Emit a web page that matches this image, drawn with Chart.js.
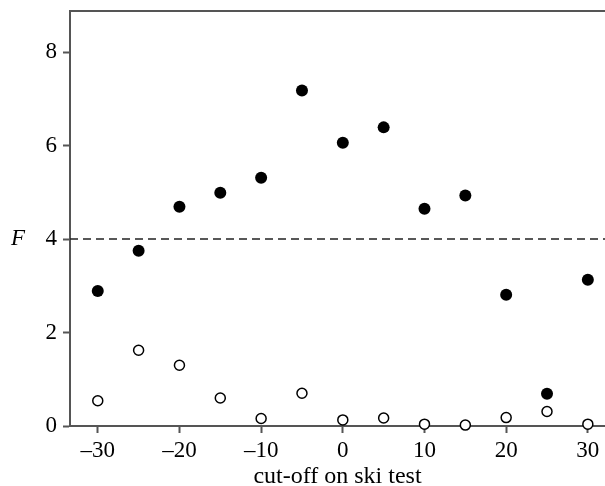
<!DOCTYPE html>
<html>
<head>
<meta charset="utf-8">
<script src="https://cdn.jsdelivr.net/npm/chart.js@4.4.1/dist/chart.umd.min.js"></script>
<style>
  html, body { margin: 0; padding: 0; background: #fff; }
  #wrap { width: 605px; height: 486px; }
</style>
</head>
<body>
<div id="wrap"><canvas id="graph" width="605" height="486"></canvas></div>
<script>
"use strict";

const cutoffs = [-30, -25, -20, -15, -10, -5, 0, 5, 10, 15, 20, 25, 30];
const fFilled = [2.89, 3.75, 4.69, 4.99, 5.31, 7.18, 6.06, 6.39, 4.65, 4.93, 2.81, 0.69, 3.13];
const fOpen = [0.54, 1.62, 1.30, 0.60, 0.16, 0.70, 0.13, 0.17, 0.04, 0.02, 0.18, 0.31, 0.04];
const xTicks = [-30, -20, -10, 0, 10, 20, 30];
const yTicks = [0, 2, 4, 6, 8];
const threshold = 4;

const axisColor = "#555";
const serif = "'Liberation Serif', 'Times New Roman', serif";

const extras = {
  id: "extras",
  afterDatasetsDraw(chart) {
    const { ctx, chartArea, scales } = chart;
    ctx.save();
    // top frame line
    ctx.strokeStyle = axisColor;
    ctx.lineWidth = 2;
    ctx.beginPath();
    ctx.moveTo(chartArea.left, chartArea.top);
    ctx.lineTo(chartArea.right, chartArea.top);
    ctx.stroke();
    // threshold line
    const y = scales.y.getPixelForValue(threshold);
    ctx.strokeStyle = "#222";
    ctx.lineWidth = 1.5;
    ctx.setLineDash([8, 5]);
    ctx.beginPath();
    ctx.moveTo(chartArea.left, y);
    ctx.lineTo(chartArea.right, y);
    ctx.stroke();
    ctx.setLineDash([]);
    // F label
    ctx.fillStyle = "#000";
    ctx.font = "italic 23px " + serif;
    ctx.textAlign = "left";
    ctx.textBaseline = "middle";
    ctx.fillText("F", 11, y);
    ctx.restore();
  },
};

const toPoints = (vals) => cutoffs.map((c, i) => ({ x: c, y: vals[i] }));

new Chart(document.getElementById("graph").getContext("2d"), {
  type: "scatter",
  data: {
    datasets: [
      {
        label: "open",
        data: toPoints(fOpen),
        pointRadius: 5,
        pointBorderWidth: 1.5,
        pointBackgroundColor: "#fff",
        pointBorderColor: "#000",
        clip: false,
      },
      {
        label: "filled",
        data: toPoints(fFilled),
        pointRadius: 6,
        pointBorderWidth: 0,
        pointBackgroundColor: "#000",
        pointBorderColor: "#000",
        clip: false,
      },
    ],
  },
  options: {
    responsive: false,
    animation: false,
    layout: { autoPadding: false, padding: { top: 11, right: 0, left: 0, bottom: 0 } },
    plugins: { legend: { display: false }, tooltip: { enabled: false } },
    scales: {
      x: {
        type: "linear",
        min: -33.4,
        max: 32.1,
        afterBuildTicks: (s) => { s.ticks = xTicks.map((v) => ({ value: v })); },
        afterFit: (s) => { s.height = 60; s.paddingLeft = 0; s.paddingRight = 0; },
        border: { color: axisColor, width: 2 },
        grid: { drawOnChartArea: false, drawTicks: true, tickLength: 7, tickColor: axisColor, tickWidth: 2 },
        ticks: {
          color: "#000",
          padding: 4,
          maxRotation: 0,
          font: { family: serif, size: 23 },
          callback: (v) => (v < 0 ? "\u2013" + Math.abs(v) : String(v)),
        },
        title: {
          display: true,
          text: "cut-off on ski test",
          color: "#000",
          padding: { top: 0, bottom: -5 },
          font: { family: serif, size: 24 },
        },
      },
      y: {
        type: "linear",
        min: 0,
        max: 8.88,
        afterBuildTicks: (s) => { s.ticks = yTicks.map((v) => ({ value: v })); },
        afterFit: (s) => { s.width = 70; s.paddingTop = 0; s.paddingBottom = 0; },
        border: { color: axisColor, width: 2 },
        grid: { drawOnChartArea: false, drawTicks: true, tickLength: 7, tickColor: axisColor, tickWidth: 2 },
        ticks: {
          color: "#000",
          padding: 6,
          font: { family: serif, size: 23 },
        },
      },
    },
  },
  plugins: [extras],
});
</script>
</body>
</html>
